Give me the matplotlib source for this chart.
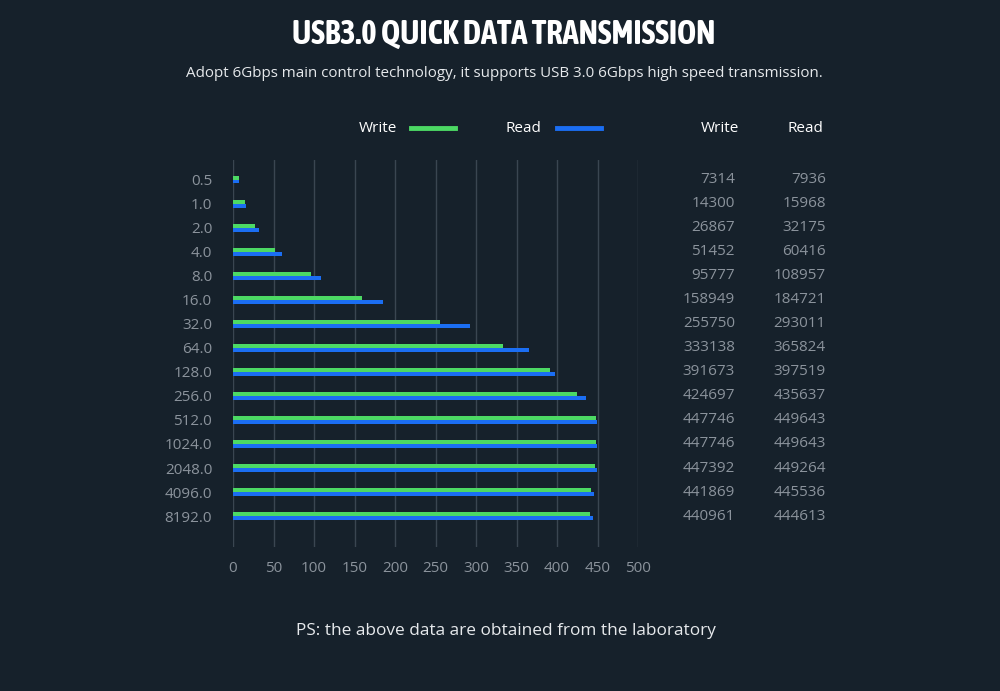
import matplotlib.pyplot as plt
import matplotlib.transforms as mtransforms
from matplotlib import font_manager
import numpy as np

# block sizes (KB) and speeds (KB/s)
sizes = ['0.5', '1.0', '2.0', '4.0', '8.0', '16.0', '32.0', '64.0', '128.0',
         '256.0', '512.0', '1024.0', '2048.0', '4096.0', '8192.0']
write = [7314, 14300, 26867, 51452, 95777, 158949, 255750, 333138, 391673,
         424697, 447746, 447746, 447392, 441869, 440961]
read = [7936, 15968, 32175, 60416, 108957, 184721, 293011, 365824, 397519,
        435637, 449643, 449643, 449264, 445536, 444613]

bg = '#16212b'
green = '#4cd964'
blue = '#1b6ef3'
grey = '#8b939c'
grid = '#3a4651'

plt.rcParams['font.family'] = ['Open Sans', 'DejaVu Sans']

fig = plt.figure(figsize=(10, 6.91), dpi=100, facecolor=bg)
ax = fig.add_axes([0.233, 0.2084, 0.405, 0.5601])
ax.set_facecolor(bg)

y = np.arange(len(sizes))
h = 0.15
ax.barh(y - h / 2, np.array(write) / 1000, height=h, color=green, zorder=3)
ax.barh(y + h / 2, np.array(read) / 1000, height=h, color=blue, zorder=3)

ax.set_xlim(0, 500)
ax.set_ylim(15.29, -0.83)
ax.set_xticks(np.arange(0, 501, 50))
ax.set_yticks(y)
ax.set_yticklabels(sizes)
ax.grid(axis='x', color=grid, linewidth=1, zorder=0)
for s in ax.spines.values():
    s.set_visible(False)
ax.tick_params(length=0, colors=grey, labelsize=11)
ax.tick_params(axis='y', pad=15)
ax.tick_params(axis='x', pad=10)

# condensed bold face for the headline if one is installed
title_font = None
for f in font_manager.fontManager.ttflist:
    if 'Condensed' in f.name or 'Narrow' in f.name:
        if f.weight in ('bold', 700) or 'Bold' in f.fname:
            title_font = f.name
            break
if title_font:
    fig.text(0.504, 0.951, 'USB3.0 QUICK DATA TRANSMISSION', ha='center', va='center',
             color='white', fontsize=23.5, fontweight='bold', family=[title_font, 'DejaVu Sans'])
else:
    fig.text(0.504, 0.951, 'USB3.0 QUICK DATA TRANSMISSION', ha='center', va='center',
             color='white', fontsize=16.5, fontweight='bold', family=['DejaVu Sans'])

fig.text(0.504, 0.893, 'Adopt 6Gbps main control technology, it supports USB 3.0 6Gbps high speed transmission.',
         ha='center', va='center', color='#e6e9ec', fontsize=10.9)
fig.text(0.506, 0.087, 'PS: the above data are obtained from the laboratory',
         ha='center', va='center', color='#e6e9ec', fontsize=12.4)

# legend drawn by hand
ly = 1 - 128 / 691
fig.text(0.397, ly, 'Write', ha='right', va='center', color='white', fontsize=11)
fig.text(0.541, ly, 'Read', ha='right', va='center', color='white', fontsize=11)
fig.add_artist(plt.Line2D([0.411, 0.455], [ly, ly], color=green, linewidth=3.5))
fig.add_artist(plt.Line2D([0.557, 0.601], [ly, ly], color=blue, linewidth=3.5))

# value table on the right
fig.text(0.720, ly, 'Write', ha='center', va='center', color='white', fontsize=11)
fig.text(0.805, ly, 'Read', ha='center', va='center', color='white', fontsize=11)
trans = mtransforms.blended_transform_factory(fig.transFigure, ax.transData)
for i in range(len(sizes)):
    fig.text(0.735, y[i], str(write[i]), transform=trans, ha='right', va='center',
             color=grey, fontsize=11)
    fig.text(0.826, y[i], str(read[i]), transform=trans, ha='right', va='center',
             color=grey, fontsize=11)

fig.savefig('out.png', facecolor=bg)
